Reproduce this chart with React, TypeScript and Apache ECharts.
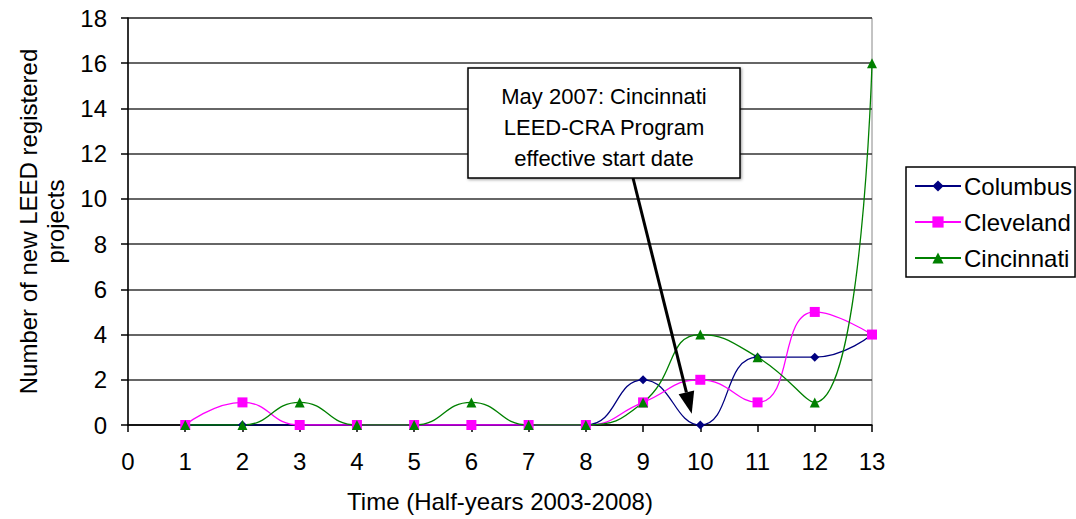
import React, { useEffect, useRef } from "react";
import * as echarts from "echarts";

const xValues = [1, 2, 3, 4, 5, 6, 7, 8, 9, 10, 11, 12, 13];
const columbus = [0, 0, 0, 0, 0, 0, 0, 0, 2, 0, 3, 3, 4];
const cleveland = [0, 1, 0, 0, 0, 0, 0, 0, 1, 2, 1, 5, 4];
const cincinnati = [0, 0, 1, 0, 0, 1, 0, 0, 1, 4, 3, 1, 16];
const seriesNames = ["Columbus", "Cleveland", "Cincinnati"];
const annotationLines = ["May 2007: Cincinnati", "LEED-CRA Program", "effective start date"];
const xAxisTitle = "Time (Half-years 2003-2008)";
const yAxisTitle = "Number of new LEED registered\nprojects";

const FONT = "Liberation Sans";
const FS = 24;

export default function App() {
  const ref = useRef<HTMLDivElement>(null);
  useEffect(() => {
    if (!ref.current) return;
    const chart = echarts.init(ref.current, undefined, { renderer: "svg" });
    const pairs = (ys: number[]) => xValues.map((x, i) => [x, ys[i]]);
    const mk = (name: string, ys: number[], color: string, symbol: string, size: number) => ({
      name,
      type: "line",
      data: pairs(ys),
      smooth: 0.5,
      symbol,
      symbolSize: size,
      lineStyle: { color, width: 1.3 },
      itemStyle: { color },
    });
    chart.setOption({
      animation: false,
      backgroundColor: "#fff",
      textStyle: { fontFamily: FONT },
      grid: {
        left: 128,
        right: 204,
        top: 18,
        bottom: 94,
        show: true,
        borderColor: "#888",
        borderWidth: 1,
      },
      legend: {
        orient: "vertical",
        left: 906,
        top: 167,
        padding: [7, 3, 7, 8],
        itemGap: 12,
        itemWidth: 46,
        itemHeight: 14,
        borderColor: "#000",
        borderWidth: 1.5,
        backgroundColor: "#fff",
        textStyle: { fontFamily: FONT, fontSize: FS, color: "#000", padding: [0, 0, 0, -2] },
        data: seriesNames,
      },
      xAxis: {
        type: "value",
        min: 0,
        max: 13,
        interval: 1,
        name: xAxisTitle,
        nameLocation: "middle",
        nameGap: 64,
        nameTextStyle: { fontFamily: FONT, fontSize: FS, color: "#000" },
        axisLine: { lineStyle: { color: "#000", width: 1.5 } },
        axisTick: { show: true, length: 7, lineStyle: { color: "#000", width: 1.5 } },
        axisLabel: { fontFamily: FONT, fontSize: FS, color: "#000", margin: 24 },
        splitLine: { show: false },
      },
      yAxis: {
        type: "value",
        min: 0,
        max: 18,
        interval: 2,
        name: yAxisTitle,
        nameLocation: "middle",
        nameGap: 58,
        nameTextStyle: { fontFamily: FONT, fontSize: FS, color: "#000", lineHeight: 27, align: "center" },
        axisLine: { show: true, lineStyle: { color: "#000", width: 1.5 } },
        axisTick: { show: true, length: 7, lineStyle: { color: "#000", width: 1.5 } },
        axisLabel: { fontFamily: FONT, fontSize: FS, color: "#000", margin: 21 },
        splitLine: { show: true, lineStyle: { color: "#333", width: 1.5 } },
      },
      series: [
        mk(seriesNames[0], columbus, "#000080", "diamond", 9),
        mk(seriesNames[1], cleveland, "#FF00FF", "rect", 10),
        mk(seriesNames[2], cincinnati, "#008000", "triangle", 10),
      ],
    });

    const tip = chart.convertToPixel({ gridIndex: 0 }, [9.85, 0.5]) as number[];
    const boxX = 468, boxY = 68, boxW = 272, boxH = 110;
    const start = [633, boxY + boxH];
    const dx = tip[0] - start[0], dy = tip[1] - start[1];
    const len = Math.sqrt(dx * dx + dy * dy);
    const ux = dx / len, uy = dy / len;
    const headL = 22, headW = 8;
    const base = [tip[0] - ux * headL, tip[1] - uy * headL];
    const px = -uy, py = ux;
    chart.setOption({
      graphic: [
        {
          type: "line",
          z: 100,
          shape: { x1: start[0], y1: start[1], x2: base[0], y2: base[1] },
          style: { stroke: "#000", lineWidth: 3 },
        },
        {
          type: "polygon",
          z: 100,
          shape: {
            points: [
              [tip[0], tip[1]],
              [base[0] + px * headW, base[1] + py * headW],
              [base[0] - px * headW, base[1] - py * headW],
            ],
          },
          style: { fill: "#000" },
        },
        {
          type: "rect",
          z: 101,
          shape: { x: boxX, y: boxY, width: boxW, height: boxH },
          style: { fill: "#fff", stroke: "#000", lineWidth: 1.5, shadowBlur: 3, shadowColor: "rgba(0,0,0,0.4)", shadowOffsetX: 1, shadowOffsetY: 1 },
        },
        ...annotationLines.map((t, i) => ({
          type: "text",
          z: 102,
          x: boxX + boxW / 2,
          y: boxY + 28 + i * 31,
          style: {
            text: t,
            fill: "#000",
            font: `22px "${FONT}"`,
            textAlign: "center",
            textVerticalAlign: "middle",
          },
        })),
      ],
    });
    return () => chart.dispose();
  }, []);
  return <div ref={ref} style={{ width: 1076, height: 519, position: "absolute", left: 0, top: 0 }} />;
}
